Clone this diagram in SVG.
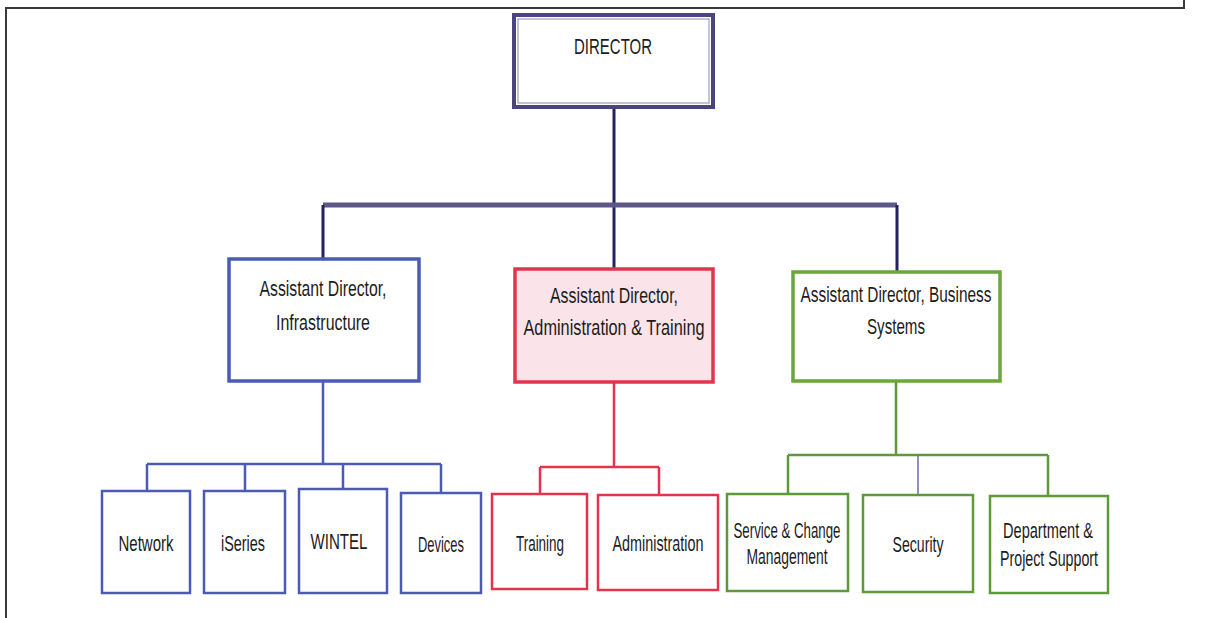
<svg xmlns="http://www.w3.org/2000/svg" width="1206" height="618" viewBox="0 0 1206 618">
<style>
text{font-family:"Liberation Sans",Arial,sans-serif;font-size:22px;fill:#1c1c1c;text-anchor:middle}
.blue{fill:#fff;stroke:#4b5bb5;stroke-width:3.5}
.red{fill:#fbe3ea;stroke:#e2344e;stroke-width:3.5}
.redc{fill:#fff;stroke:#e2344e;stroke-width:2.5}
.green{fill:#fff;stroke:#6aa63a;stroke-width:3.5}
.greenc{fill:#fff;stroke:#5f9a3a;stroke-width:2.5}
.bluec{fill:#fff;stroke:#4b5bb5;stroke-width:2.5}
</style>
<rect width="1206" height="618" fill="#fff"/>
<g id="frame" fill="none" stroke="#3a3a3a" stroke-width="2">
<path d="M6 618 V8 H1184 V0"/>
</g>
<g id="connectors" fill="none">
<path d="M614 108 V268" stroke="#23235e" stroke-width="3"/>
<path d="M323 205 H897" stroke="#5b5789" stroke-width="5"/>
<path d="M323 205 V258 M897 205 V271" stroke="#23235e" stroke-width="3"/>
<g stroke="#4b5bb5" stroke-width="2.5">
<path d="M323 381 V464 M147 464 H441 M147 464 V491 M245 464 V491 M343 464 V489 M441 464 V493"/>
</g>
<g stroke="#e2344e" stroke-width="2.5">
<path d="M614 382 V467 M540 467 H659 M540 467 V494 M659 467 V495"/>
</g>
<g stroke="#5f9a3a" stroke-width="2.5">
<path d="M896 381 V455 M788 455 H1048 M788 455 V494 M1048 455 V496"/>
</g>
<path d="M918 455 V495" stroke="#6a6aa8" stroke-width="1.5"/>
</g>
<g id="director">
<rect x="514" y="15" width="199" height="92" fill="#fff" stroke="#4a4580" stroke-width="4"/>
<rect x="518" y="19" width="191" height="84" fill="none" stroke="#8a86b0" stroke-width="1"/>
<text x="613" y="54" font-size="26" textLength="78" lengthAdjust="spacingAndGlyphs">DIRECTOR</text>
</g>
<g id="ad-infrastructure">
<rect class="blue" x="229" y="259" width="190" height="122"/>
<text x="323" y="296" textLength="127" lengthAdjust="spacingAndGlyphs">Assistant Director,</text>
<text x="323" y="330" textLength="94" lengthAdjust="spacingAndGlyphs">Infrastructure</text>
</g>
<g id="ad-admin">
<rect class="red" x="515" y="269" width="198" height="113"/>
<text x="614" y="303" textLength="128" lengthAdjust="spacingAndGlyphs">Assistant Director,</text>
<text x="614" y="335" textLength="181" lengthAdjust="spacingAndGlyphs">Administration &amp; Training</text>
</g>
<g id="ad-business">
<rect class="green" x="793" y="272" width="207" height="109"/>
<text x="896" y="302" textLength="191" lengthAdjust="spacingAndGlyphs">Assistant Director, Business</text>
<text x="896" y="334" textLength="58" lengthAdjust="spacingAndGlyphs">Systems</text>
</g>
<g id="network"><rect class="bluec" x="102" y="491" width="88" height="102"/><text x="146" y="551" textLength="55" lengthAdjust="spacingAndGlyphs">Network</text></g>
<g id="iseries"><rect class="bluec" x="204" y="491" width="81" height="102"/><text x="243" y="551" textLength="44" lengthAdjust="spacingAndGlyphs">iSeries</text></g>
<g id="wintel"><rect class="bluec" x="299" y="489" width="88" height="104"/><text x="339" y="549" textLength="57" lengthAdjust="spacingAndGlyphs">WINTEL</text></g>
<g id="devices"><rect class="bluec" x="401" y="493" width="80" height="100"/><text x="441" y="552" textLength="46" lengthAdjust="spacingAndGlyphs">Devices</text></g>
<g id="training"><rect class="redc" x="492" y="494" width="95" height="95"/><text x="540" y="551" textLength="48" lengthAdjust="spacingAndGlyphs">Training</text></g>
<g id="administration"><rect class="redc" x="598" y="495" width="120" height="95"/><text x="658" y="551" textLength="91" lengthAdjust="spacingAndGlyphs">Administration</text></g>
<g id="service-change"><rect class="greenc" x="727" y="494" width="121" height="97"/><text x="787" y="538" textLength="107" lengthAdjust="spacingAndGlyphs">Service &amp; Change</text><text x="787" y="564" textLength="81" lengthAdjust="spacingAndGlyphs">Management</text></g>
<g id="security"><rect class="greenc" x="863" y="495" width="110" height="97"/><text x="918" y="552" textLength="51" lengthAdjust="spacingAndGlyphs">Security</text></g>
<g id="dept-project"><rect class="greenc" x="990" y="496" width="118" height="97"/><text x="1048" y="538" textLength="90" lengthAdjust="spacingAndGlyphs">Department &amp;</text><text x="1049" y="566" textLength="98" lengthAdjust="spacingAndGlyphs">Project Support</text></g>
</svg>
